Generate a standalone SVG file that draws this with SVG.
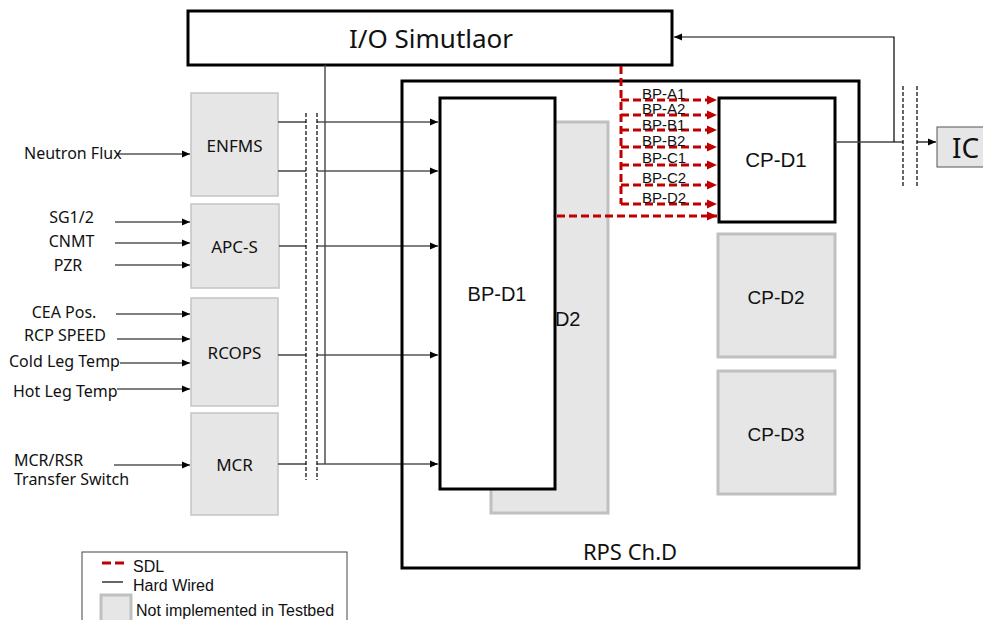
<svg xmlns="http://www.w3.org/2000/svg" width="983" height="620" viewBox="0 0 983 620">
<defs>
<style>
.k{font-family:"Noto Sans","Open Sans","DejaVu Sans",sans-serif;fill:#111}
.a{font-family:"Liberation Sans",Arial,sans-serif;fill:#111}
.blk{fill:#fff;stroke:#000;stroke-width:3}
.gry{fill:#e6e6e6;stroke:#c0c0c0;stroke-width:3}
.in{fill:#e6e6e6;stroke:#c4c4c4;stroke-width:1.5}
.hw{fill:none;stroke:#000;stroke-width:1.2}
.hwo{fill:none;stroke:#444;stroke-width:1.4}
.cut{fill:none;stroke:#000;stroke-width:1.2;stroke-dasharray:4 2}
.sdl{fill:none;stroke:#c00000;stroke-width:3;stroke-dasharray:8 4}
</style>
<marker id="ah" markerUnits="userSpaceOnUse" markerWidth="9" markerHeight="8" refX="8" refY="4" orient="auto"><path d="M0,0.5 L8,4 L0,7.5 z" fill="#000"/></marker>
<marker id="ahr" markerUnits="userSpaceOnUse" markerWidth="11" markerHeight="10" refX="10" refY="5" orient="auto"><path d="M0,0.5 L10,5 L0,9.5 z" fill="#c00000"/></marker>
</defs>
<rect width="983" height="620" fill="#fff"/>

<g id="rps">
<rect x="402" y="81" width="457" height="487" fill="none" stroke="#000" stroke-width="3"/>
<text class="k" x="630" y="560" font-size="22" text-anchor="middle">RPS Ch.D</text>
</g>
<g id="io-sim">
<rect class="blk" x="188" y="11" width="484" height="54"/>
<text class="k" x="431" y="48" font-size="26" text-anchor="middle">I/O Simutlaor</text>
</g>
<g id="enfms">
<rect class="in" x="191" y="93" width="87" height="103"/>
<text class="k" x="234.5" y="152" font-size="17" text-anchor="middle">ENFMS</text>
</g>
<g id="apc-s">
<rect class="in" x="191" y="204" width="88" height="84"/>
<text class="k" x="234.5" y="253" font-size="17" text-anchor="middle">APC-S</text>
</g>
<g id="rcops">
<rect class="in" x="191" y="298" width="87" height="108"/>
<text class="k" x="234.5" y="359" font-size="17" text-anchor="middle">RCOPS</text>
</g>
<g id="mcr">
<rect class="in" x="191" y="413" width="87" height="102"/>
<text class="k" x="234.5" y="471" font-size="17" text-anchor="middle">MCR</text>
</g>
<g id="bp-d2">
<rect class="gry" x="491" y="122" width="117" height="391"/>
<text class="a" x="551" y="326" font-size="20" text-anchor="middle">BP-D2</text>
</g>
<g id="bp-d1">
<rect class="blk" x="440" y="98" width="115" height="391"/>
<text class="a" x="497" y="301" font-size="20" text-anchor="middle">BP-D1</text>
</g>
<g id="cp-d1">
<rect class="blk" x="719" y="98" width="116" height="124"/>
<text class="a" x="776" y="167" font-size="20.5" text-anchor="middle">CP-D1</text>
</g>
<g id="cp-d2">
<rect class="gry" x="718" y="234" width="117" height="123"/>
<text class="a" x="776" y="304" font-size="19" text-anchor="middle">CP-D2</text>
</g>
<g id="cp-d3">
<rect class="gry" x="718" y="371" width="117" height="123"/>
<text class="a" x="776" y="441" font-size="19" text-anchor="middle">CP-D3</text>
</g>
<g id="ic">
<rect x="937" y="127" width="52" height="40" fill="#e6e6e6" stroke="#555" stroke-width="1"/>
<text class="k" x="952" y="158" font-size="28">IC</text>
</g>

<g id="inputs">
<text class="k" x="24" y="159" font-size="16">Neutron Flux</text>
<text class="k" x="71.5" y="223" font-size="16" text-anchor="middle">SG1/2</text>
<text class="k" x="71.5" y="247" font-size="16" text-anchor="middle">CNMT</text>
<text class="k" x="68" y="271" font-size="16" text-anchor="middle">PZR</text>
<text class="k" x="64" y="318" font-size="16" text-anchor="middle">CEA Pos.</text>
<text class="k" x="65" y="341" font-size="16" text-anchor="middle">RCP SPEED</text>
<text class="k" x="9" y="367" font-size="16">Cold Leg Temp</text>
<text class="k" x="13" y="397" font-size="16">Hot Leg Temp</text>
<text class="k" x="14" y="466" font-size="16">MCR/RSR</text>
<text class="k" x="14" y="485" font-size="16">Transfer Switch</text>
</g>

<g id="connectors">
<line class="hw" x1="117" y1="154" x2="190" y2="154" marker-end="url(#ah)"/>
<line class="hw" x1="115" y1="222" x2="190" y2="222" marker-end="url(#ah)"/>
<line class="hw" x1="115" y1="243" x2="190" y2="243" marker-end="url(#ah)"/>
<line class="hw" x1="115" y1="265" x2="190" y2="265" marker-end="url(#ah)"/>
<line class="hw" x1="116" y1="314" x2="190" y2="314" marker-end="url(#ah)"/>
<line class="hw" x1="117" y1="339" x2="190" y2="339" marker-end="url(#ah)"/>
<line class="hw" x1="120" y1="363" x2="190" y2="363" marker-end="url(#ah)"/>
<line class="hw" x1="117" y1="389" x2="190" y2="389" marker-end="url(#ah)"/>
<line class="hw" x1="114" y1="465" x2="190" y2="465" marker-end="url(#ah)"/>

<path class="hwo" d="M278,122 H306 M278,171 H306 M279,246 H306 M278,355 H306 M278,464 H306"/>
<line class="cut" x1="306" y1="113" x2="306" y2="480"/>
<line class="cut" x1="317" y1="113" x2="317" y2="480"/>
<line class="hw" x1="317" y1="122" x2="438" y2="122" marker-end="url(#ah)"/>
<line class="hw" x1="317" y1="171" x2="438" y2="171" marker-end="url(#ah)"/>
<line class="hw" x1="317" y1="246" x2="438" y2="246" marker-end="url(#ah)"/>
<line class="hw" x1="317" y1="355" x2="438" y2="355" marker-end="url(#ah)"/>
<line class="hw" x1="317" y1="464" x2="438" y2="464" marker-end="url(#ah)"/>
<path class="hwo" d="M325,65 V464"/>

<path class="sdl" d="M621,66 V204"/>
<line class="sdl" x1="621" y1="100" x2="717" y2="100" marker-end="url(#ahr)"/>
<line class="sdl" x1="621" y1="115" x2="717" y2="115" marker-end="url(#ahr)"/>
<line class="sdl" x1="621" y1="130" x2="717" y2="130" marker-end="url(#ahr)"/>
<line class="sdl" x1="621" y1="147" x2="717" y2="147" marker-end="url(#ahr)"/>
<line class="sdl" x1="621" y1="165" x2="717" y2="165" marker-end="url(#ahr)"/>
<line class="sdl" x1="621" y1="185" x2="717" y2="185" marker-end="url(#ahr)"/>
<line class="sdl" x1="621" y1="204" x2="717" y2="204" marker-end="url(#ahr)"/>
<line class="sdl" x1="557" y1="216" x2="717" y2="216" marker-end="url(#ahr)"/>

<line class="hwo" x1="835" y1="142" x2="903" y2="142"/>
<path class="hw" d="M894,142 V37 H674" marker-end="url(#ah)"/>
<line class="cut" x1="903" y1="86" x2="903" y2="188"/>
<line class="cut" x1="917" y1="86" x2="917" y2="188"/>
<line class="hw" x1="917" y1="142" x2="936" y2="142" marker-end="url(#ah)"/>
</g>

<g id="sdl-labels">
<text class="a" x="642" y="99" font-size="15">BP-A1</text>
<text class="a" x="642" y="114" font-size="15">BP-A2</text>
<text class="a" x="642" y="130" font-size="15">BP-B1</text>
<text class="a" x="642" y="146" font-size="15">BP-B2</text>
<text class="a" x="642" y="163" font-size="15">BP-C1</text>
<text class="a" x="642" y="183" font-size="15">BP-C2</text>
<text class="a" x="642" y="203" font-size="15">BP-D2</text>
</g>

<g id="legend">
<rect x="82" y="552" width="265" height="80" fill="#fff" stroke="#444" stroke-width="1"/>
<line x1="102" y1="563" x2="124" y2="563" stroke="#c00000" stroke-width="3" stroke-dasharray="9 4"/>
<text class="a" x="133" y="572" font-size="16">SDL</text>
<line x1="102" y1="582" x2="123" y2="582" stroke="#000" stroke-width="1.2"/>
<text class="a" x="133" y="591" font-size="16">Hard Wired</text>
<rect x="101" y="595" width="30" height="30" fill="#e6e6e6" stroke="#c0c0c0" stroke-width="3"/>
<text class="a" x="136" y="616" font-size="16">Not implemented in Testbed</text>
</g>
</svg>
